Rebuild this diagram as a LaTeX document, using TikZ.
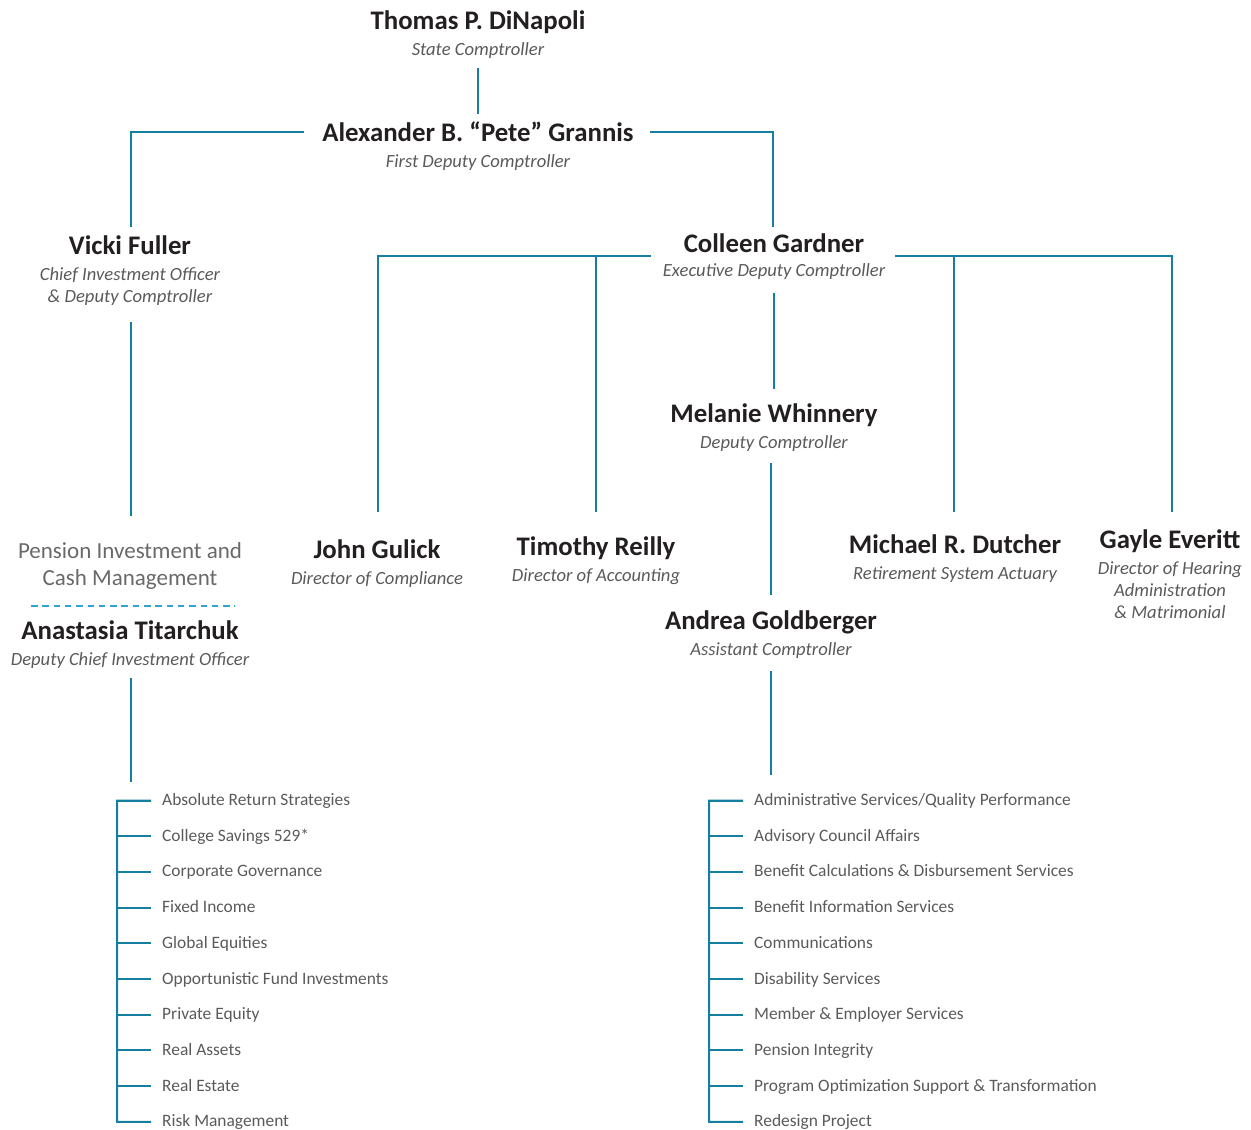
\documentclass[tikz,border=0pt]{standalone}
\usepackage{fontspec}
\setmainfont{Carlito}
\definecolor{lnc}{RGB}{22,126,160}
\definecolor{dlc}{RGB}{50,162,208}
\definecolor{nmc}{RGB}{35,31,32}
\definecolor{ttc}{RGB}{90,90,90}
\definecolor{pnc}{RGB}{105,105,105}
\begin{document}
\begin{tikzpicture}[x=1pt,y=-1pt,
  nm/.style={font=\fontsize{26.8}{30}\selectfont\bfseries, text=nmc, inner sep=0pt, anchor=base},
  ttl/.style={font=\fontsize{18.6}{22}\selectfont\itshape, text=ttc, inner sep=0pt, anchor=base},
  pen/.style={font=\fontsize{23}{26}\selectfont, text=pnc, inner sep=0pt, anchor=base},
  item/.style={font=\fontsize{17.4}{20}\selectfont, text=ttc, inner sep=0pt, anchor=base west},
  conn/.style={draw=lnc, line width=2pt},
  dconn/.style={draw=dlc, line width=1.6pt, dash pattern=on 6.5pt off 4.8pt}]
\useasboundingbox (0,0) rectangle (1251,1130);

% people
\node[nm]  (dinapoli)    at (478,29)  {Thomas P. DiNapoli};
\node[ttl] (dinapoliT)   at (478,55)  {State Comptroller};
\node[nm]  (grannis)     at (478,141) {Alexander B. “Pete” Grannis};
\node[ttl] (grannisT)    at (478,167) {First Deputy Comptroller};
\node[nm]  (fuller)      at (130,254) {Vicki Fuller};
\node[ttl] (fullerTa)    at (130,280) {Chief Investment Officer};
\node[ttl] (fullerTb)    at (130,302) {\& Deputy Comptroller};
\node[pen] (penA)        at (130,558) {Pension Investment and};
\node[pen] (penB)        at (130,585) {Cash Management};
\node[nm]  (titarchuk)   at (130,639) {Anastasia Titarchuk};
\node[ttl] (titarchukT)  at (130,665) {Deputy Chief Investment Officer};
\node[nm]  (gardner)     at (774,252) {Colleen Gardner};
\node[ttl] (gardnerT)    at (774,276) {Executive Deputy Comptroller};
\node[nm]  (whinnery)    at (774,422) {Melanie Whinnery};
\node[ttl] (whinneryT)   at (774,448) {Deputy Comptroller};
\node[nm]  (goldberger)  at (771,629) {Andrea Goldberger};
\node[ttl] (goldbergerT) at (771,655) {Assistant Comptroller};
\node[nm]  (gulick)      at (377,558) {John Gulick};
\node[ttl] (gulickT)     at (377,584) {Director of Compliance};
\node[nm]  (reilly)      at (596,555) {Timothy Reilly};
\node[ttl] (reillyT)     at (596,581) {Director of Accounting};
\node[nm]  (dutcher)     at (955,553) {Michael R. Dutcher};
\node[ttl] (dutcherT)    at (955,579) {Retirement System Actuary};
\node[nm]  (everitt)     at (1170,548) {Gayle Everitt};
\node[ttl] (everittTa)   at (1170,574) {Director of Hearing};
\node[ttl] (everittTb)   at (1170,596) {Administration};
\node[ttl] (everittTc)   at (1170,618) {\& Matrimonial};

% connector end points
\coordinate (c1a) at (478,68);   \coordinate (c1b) at (478,114);
\coordinate (c2a) at (304,132);  \coordinate (c2b) at (131,227);
\coordinate (c3a) at (650,132);  \coordinate (c3b) at (773,227);
\coordinate (c4a) at (131,322);  \coordinate (c4b) at (131,516);
\coordinate (c5a) at (31,606);   \coordinate (c5b) at (235,606);
\coordinate (c6a) at (131,678);  \coordinate (c6b) at (131,782);
\coordinate (g1) at (651,256);   \coordinate (g2) at (895,256);
\coordinate (gul) at (378,512);  \coordinate (rei) at (596,512);
\coordinate (dut) at (954,512);  \coordinate (eve) at (1172,512);
\coordinate (c7a) at (774,293);  \coordinate (c7b) at (774,389);
\coordinate (c8a) at (771,463);  \coordinate (c8b) at (771,595);
\coordinate (c9a) at (771,671);  \coordinate (c9b) at (771,775);

\draw[conn] (c1a) -- (c1b);
\draw[conn] (c2a) -| (c2b);
\draw[conn] (c3a) -| (c3b);
\draw[conn] (c4a) -- (c4b);
\draw[dconn] (c5a) -- (c5b);
\draw[conn] (c6a) -- (c6b);
\draw[conn] (g1) -| (gul);
\draw[conn] (rei |- g1) -- (rei);
\draw[conn] (g2) -| (eve);
\draw[conn] (dut |- g2) -- (dut);
\draw[conn] (c7a) -- (c7b);
\draw[conn] (c8a) -- (c8b);
\draw[conn] (c9a) -- (c9b);

% left list
\foreach \t [count=\i from 0] in {Absolute Return Strategies, College Savings 529*, Corporate Governance, Fixed Income, Global Equities, Opportunistic Fund Investments, Private Equity, Real Assets, Real Estate, Risk Management}{
  \node[item] (la\i) at (162,{805.5+35.7*\i}) {\t};
  \coordinate (lt\i) at (151,{800.5+35.7*\i});
  \draw[conn] (117,{800.5+35.7*\i}) -- (lt\i);
}
\draw[conn] (lt0) -- (117,800.5) -- (117,1121.8) -- (lt9);

% right list
\foreach \t [count=\i from 0] in {Administrative Services/Quality Performance, Advisory Council Affairs, Benefit Calculations \& Disbursement Services, Benefit Information Services, Communications, Disability Services, Member \& Employer Services, Pension Integrity, Program Optimization Support \& Transformation, Redesign Project}{
  \node[item] (ra\i) at (754,{805.5+35.7*\i}) {\t};
  \coordinate (rt\i) at (743,{800.5+35.7*\i});
  \draw[conn] (709,{800.5+35.7*\i}) -- (rt\i);
}
\draw[conn] (rt0) -- (709,800.5) -- (709,1121.8) -- (rt9);
\end{tikzpicture}
\end{document}
